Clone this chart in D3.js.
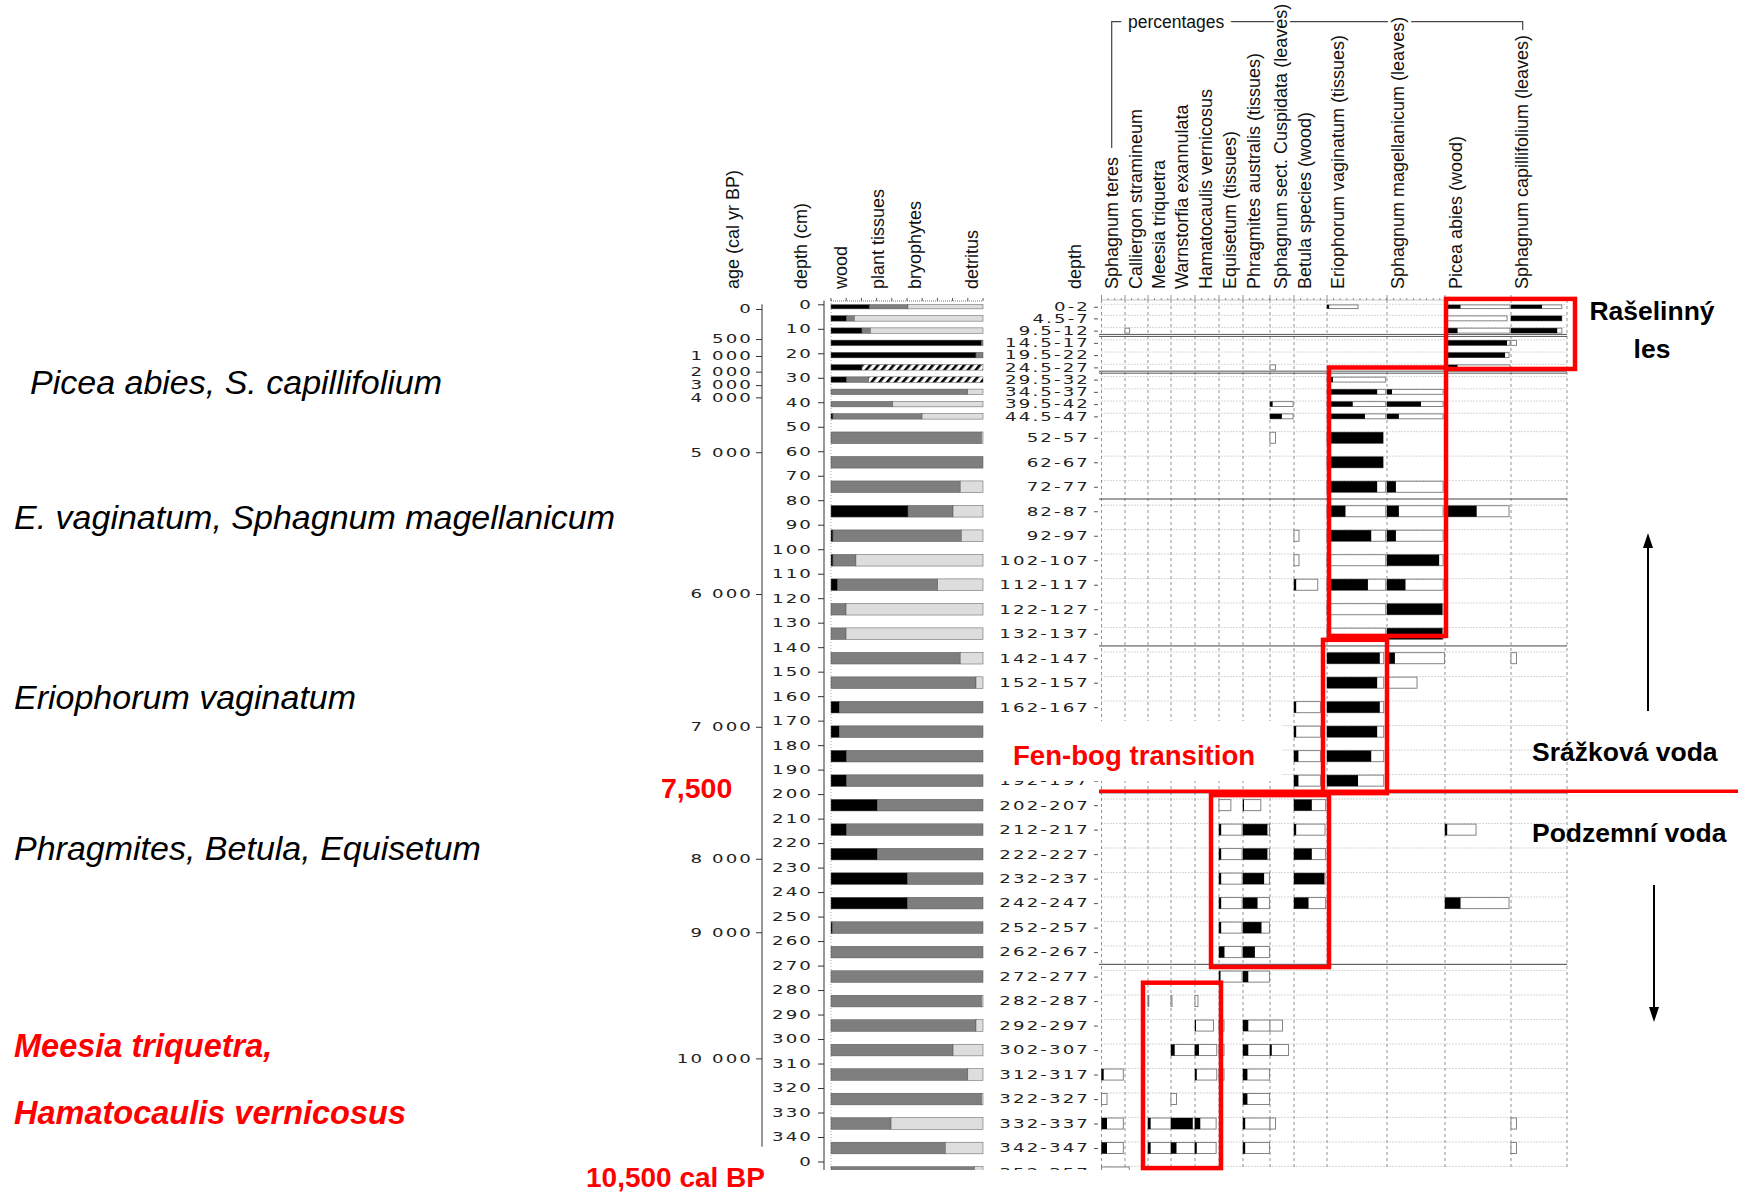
<!DOCTYPE html>
<html><head><meta charset="utf-8">
<script src="https://cdn.jsdelivr.net/npm/d3@7"></script>
<style>body{margin:0;background:#fff}svg{display:block}</style>
</head><body>
<svg id="c" width="1741" height="1194"></svg>
<script>
// ---------------- DATA ----------------
const samples = ["0-2","4.5-7","9.5-12","14.5-17","19.5-22","24.5-27","29.5-32","34.5-37","39.5-42","44.5-47",
 "52-57","62-67","72-77","82-87","92-97","102-107","112-117","122-127","132-137","142-147","152-157","162-167",
 "172-177","182-187","192-197","202-207","212-217","222-227","232-237","242-247","252-257","262-267","272-277",
 "282-287","292-297","302-307","312-317","322-327","332-337","342-347","352-357"];
// sample labels hidden behind the "Fen-bog transition" note in the reference
const hiddenLabels = ["172-177","182-187"];

const compCategories = ["wood","plant tissues","bryophytes","detritus"];
const compWood    = [25.4,10.3,20.4,99,95.4,20.4,10.3,0,0,1.3, 0,0,0,50.7,1.3,1.3,4.4,0,0,0,0,5.5, 5.5,10.3,10.3,30.5,10.3,30.5,50.4,50.4,1,0,0, 0,0,0,0,0,0,0,0];
const compPlant   = [25.2,5,5.5,1,4.6,0,14.5,90,40.6,58.6, 99,100,85,29.6,84.4,15.1,65.8,9.9,9.9,85,95.4,94.5, 94.5,89.7,89.7,69.5,89.7,69.5,49.6,49.6,99,100,100, 99,95.4,80.3,90,99,39.5,75.2,94.3];
const compBryo    = [49.4,84.7,74.1,0,0,0,0,10,59.4,40.1, 1,0,15,19.7,14.3,83.6,29.8,90.1,90.1,15,4.6,0, 0,0,0,0,0,0,0,0,0,0,0, 1,4.6,19.7,10,1,60.5,24.8,5.7];
const compDetritus= [0,0,0,0,0,79.6,75.2,0,0,0, 0,0,0,0,0,0,0,0,0,0,0,0, 0,0,0,0,0,0,0,0,0,0,0, 0,0,0,0,0,0,0,0];

const taxa = ["Sphagnum teres","Calliergon stramineum","Meesia triquetra","Warnstorfia exannulata",
 "Hamatocaulis vernicosus","Equisetum (tissues)","Phragmites australis (tissues)",
 "Sphagnum sect. Cuspidata (leaves)","Betula species (wood)","Eriophorum vaginatum (tissues)",
 "Sphagnum magellanicum (leaves)","Picea abies (wood)","Sphagnum capillifolium (leaves)"];

// [sample, black %, total %]
const sphagnumTeres = [["312-317",3.3,33],["322-327",0,8.3],["332-337",8.3,33],["342-347",8.3,33],["352-357",0,42]];
const calliergon    = [["9.5-12",0,7]];
const meesia        = [["282-287",0,1.2],["332-337",4,35],["342-347",4,35]];
const warnstorfia   = [["282-287",0,1.5],["302-307",5.6,36],["322-327",0,8.3],["332-337",33,36],["342-347",8.3,36]];
const hamatocaulis  = [["282-287",0,4.5],["292-297",1.5,28],["302-307",6,33],["312-317",2.7,33],["332-337",8,32],["342-347",2.7,32]];
const equisetum     = [["202-207",0,18],["212-217",3.3,35],["222-227",3.3,35],["232-237",3.3,35],["242-247",3.3,35],
  ["252-257",3.3,35],["262-267",8.3,35],["272-277",2.3,35],["292-297",0,7.6],["302-307",0,7.6],["312-317",0,7.6]];
const phragmites    = [["202-207",1.5,27],["212-217",37,40],["222-227",37,40],["232-237",32,40],["242-247",22,40],
  ["252-257",28,40],["262-267",18,40],["272-277",8,40],["292-297",8,41],["302-307",8,41],["312-317",6.7,40],
  ["322-327",6.7,40],["332-337",3.3,41],["342-347",3.3,40]];
const cuspidata     = [["24.5-27",0,8.3],["39.5-42",4,35],["44.5-47",18,35],["52-57",0,8.3],["292-297",0,19],
  ["302-307",2.7,28],["332-337",0,8.3]];
const betula        = [["92-97",0,7.6],["102-107",0,7.6],["112-117",3.3,36],["162-167",3.3,40],["172-177",3.3,40],
  ["182-187",6.7,40],["192-197",6.7,40],["202-207",27,48],["212-217",3.3,47],["222-227",27,48],["232-237",46,47],["242-247",22,48]];
const eriophorum    = [["0-2",3.3,47],["29.5-32",9,89],["34.5-37",76,89],["39.5-42",39,89],["44.5-47",57.5,89],
  ["52-57",85,85],["62-67",85,85],["72-77",76,89],["82-87",28,89],["92-97",67,89],["102-107",6,89],["112-117",62,89],
  ["122-127",3,89],["132-137",3,89],["142-147",80,86],["152-157",76,86],["162-167",80,86],["172-177",76,86],
  ["182-187",67,86],["192-197",47,86]];
const magellanicum  = [["34.5-37",7.6,85],["39.5-42",51.5,85],["44.5-47",18,85],["72-77",13.5,85],["82-87",18,85],
  ["92-97",13.5,85],["102-107",79,85],["112-117",28,85],["122-127",84,85],["132-137",84,85],["142-147",12,87],["152-157",0,45.5]];
const piceaAbies    = [["0-2",23.5,98.5],["4.5-7",4.5,94],["9.5-12",19,98.5],["14.5-17",94,98.5],["19.5-22",91,97],
  ["24.5-27",19,98.5],["82-87",48,97],["212-217",3.3,47],["242-247",23.5,97]];
const capillifolium = [["0-2",47,77],["4.5-7",77,77],["9.5-12",70,77],["14.5-17",0,8.3],["142-147",0,8.3],
  ["332-337",0,8.3],["342-347",0,8.3]];
const taxaValues = [sphagnumTeres,calliergon,meesia,warnstorfia,hamatocaulis,equisetum,phragmites,cuspidata,betula,eriophorum,magellanicum,piceaAbies,capillifolium];

const ageTicks      = [0,500,1000,2000,3000,4000,5000,6000,7000,8000,9000,10000];
const ageTickDepths = [1.9,14.2,21.1,27.5,33,38,60.4,118.3,172.5,226.4,256.4,307.9];
const depthTicks    = d3.range(0,351,10);
const zoneBoundaries = [79.5,139.5,199.5,269.5];
const doubleZoneBoundaries = [12.3,27.3];

// ---------------- LAYOUT ----------------
const svg = d3.select("#c");
const FONT = "'Liberation Sans', Arial, sans-serif";
const NUMFONT = "'DejaVu Sans', sans-serif";
const depthY = d3.scaleLinear().domain([0,340]).range([304.3,1137]);
const ageY = d3.scaleLinear().domain(ageTicks).range(ageTickDepths.map(depthY));
const compX = d3.scaleLinear().domain([0,100]).range([831,983]);
const colStart = [1101.5,1125,1148,1171,1195,1219,1243,1270,1294,1327,1387,1445,1511];
const colEnd = 1567;
const pct = d3.scaleLinear().domain([0,100]).range([0,66]);
const parse = s => s.split("-").map(Number);
const BOTTOM = 1170;

const defs = svg.append("defs");
defs.append("clipPath").attr("id","clip").append("rect").attr("x",0).attr("y",0).attr("width",1741).attr("height",BOTTOM);
const pat = defs.append("pattern").attr("id","hatch").attr("patternUnits","userSpaceOnUse")
  .attr("width",6).attr("height",6).attr("patternTransform","rotate(40)");
pat.append("rect").attr("width",6).attr("height",6).attr("fill","#fff");
pat.append("rect").attr("width",2.6).attr("height",6).attr("fill","#000");

const chart = svg.append("g").attr("clip-path","url(#clip)");

function styleNums(sel, x){
  sel.selectAll(".tick text").attr("x",0)
    .attr("transform",`translate(${x},0) scale(1.4,0.93)`)
    .style("font-family",NUMFONT).style("font-size","13px").style("letter-spacing","1.5px").attr("fill","#222");
}

// ---- age axis
const ageAxis = chart.append("g").attr("transform","translate(762,0)")
  .call(d3.axisLeft(ageY).tickValues(ageTicks).tickSize(6).tickPadding(4)
  .tickFormat(d => d >= 1000 ? d3.format(",")(d).replace(",", " ") : d));
ageAxis.select(".domain").remove();
ageAxis.selectAll(".tick line").attr("stroke","#333");
styleNums(ageAxis,-9);
chart.append("line").attr("x1",762).attr("x2",762).attr("y1",depthY(0)).attr("y2",depthY(344)).attr("stroke","#333");

// ---- depth axis
const depthAxis = chart.append("g").attr("transform","translate(824,0)")
  .call(d3.axisLeft(depthY).tickValues(depthTicks).tickSize(6).tickPadding(4).tickFormat(d => d===350 ? "0" : d));
depthAxis.select(".domain").remove();
depthAxis.selectAll(".tick line").attr("stroke","#333");
styleNums(depthAxis,-11);
chart.append("line").attr("x1",824).attr("x2",824).attr("y1",depthY(-1.5)).attr("y2",BOTTOM).attr("stroke","#333");

// ---- composition
chart.append("line").attr("x1",831).attr("x2",831).attr("y1",300).attr("y2",BOTTOM)
  .attr("stroke","#aaa").attr("stroke-dasharray","1,2");
chart.append("line").attr("x1",compX(0)).attr("x2",compX(100)).attr("y1",301).attr("y2",301).attr("stroke","#777").attr("stroke-dasharray","1,1");
chart.selectAll(".ctick").data(d3.range(0,101,10)).enter().append("line")
  .attr("x1",d=>compX(d)).attr("x2",d=>compX(d)).attr("y1",298).attr("y2",301).attr("stroke","#555");
const compData = samples.map((s,i)=>({sample:s, wood:compWood[i], plant:compPlant[i], bryo:compBryo[i], detritus:compDetritus[i]}));
const compKeys = ["wood","plant","bryo","detritus"];
const compFill = {wood:"#000", plant:"#7e7e7e", bryo:"#dddddd", detritus:"url(#hatch)"};
const stacked = d3.stack().keys(compKeys)(compData);
chart.append("g").selectAll("g").data(stacked).enter().append("g")
  .attr("fill",d=>compFill[d.key])
  .selectAll("rect").data(d=>d.filter(v=>v[1]-v[0]>0)).enter().append("rect")
  .attr("x",d=>compX(d[0])).attr("width",d=>compX(d[1])-compX(d[0]))
  .attr("y",d=>depthY(parse(d.data.sample)[0])+0.3)
  .attr("height",d=>{const p=parse(d.data.sample);return depthY(p[1])-depthY(p[0])-0.6;})
  .attr("stroke","#555").attr("stroke-width",0.5);

// ---- right panel grid
const rp = chart.append("g");
rp.selectAll(".hrow").data(samples).enter().append("line")
  .attr("x1",colStart[0]).attr("x2",colEnd)
  .attr("y1",d=>depthY(parse(d)[0])).attr("y2",d=>depthY(parse(d)[0]))
  .attr("stroke","#9a9a9a").attr("stroke-width",0.8).attr("stroke-dasharray","1,2");
rp.selectAll(".vcol").data(colStart.concat([colEnd])).enter().append("line")
  .attr("x1",d=>d).attr("x2",d=>d).attr("y1",300).attr("y2",BOTTOM)
  .attr("stroke","#777").attr("stroke-width",0.8).attr("stroke-dasharray","3,3");
rp.append("line").attr("x1",colStart[0]).attr("x2",colEnd).attr("y1",300).attr("y2",300)
  .attr("stroke","#888").attr("stroke-dasharray","1,1");
colStart.forEach((c,i)=>{
  const end = i<colStart.length-1 ? colStart[i+1] : colEnd;
  d3.range(c, end, pct(10)).forEach((x,j)=>{
    rp.append("line").attr("x1",x).attr("x2",x).attr("y1",j===0?295:298).attr("y2",300).attr("stroke","#666").attr("stroke-width",0.7);
  });
});
zoneBoundaries.forEach(z=>{
  rp.append("line").attr("x1",1099).attr("x2",colEnd).attr("y1",depthY(z)).attr("y2",depthY(z)).attr("stroke","#444").attr("stroke-width",1);
});
doubleZoneBoundaries.forEach(z=>{
  [0,2].forEach(o=>rp.append("line").attr("x1",1099).attr("x2",colEnd).attr("y1",depthY(z)+o).attr("y2",depthY(z)+o).attr("stroke","#444").attr("stroke-width",0.9));
});

// sample labels
const shown = samples.filter(s=>!hiddenLabels.includes(s));
const sAxis = chart.append("g").attr("transform","translate(1098,0)")
  .call(d3.axisLeft(depthY).tickValues(shown.map(s=>{const p=parse(s);return (p[0]+p[1])/2;}))
  .tickSize(4).tickPadding(4).tickFormat((d,i)=>shown[i]));
sAxis.select(".domain").remove();
sAxis.selectAll(".tick line").attr("stroke","#555");
styleNums(sAxis,-8);

// taxa bars
taxaValues.forEach((arr,i)=>{
  const g = rp.append("g");
  const rows = g.selectAll("g").data(arr).enter().append("g");
  rows.append("rect").attr("x",colStart[i])
    .attr("y",d=>depthY(parse(d[0])[0])+0.6)
    .attr("height",d=>{const p=parse(d[0]);return depthY(p[1])-depthY(p[0])-1.2;})
    .attr("width",d=>pct(d[2])).attr("fill","#fff").attr("stroke","#777").attr("stroke-width",0.9);
  rows.filter(d=>d[1]>0).append("rect").attr("x",colStart[i])
    .attr("y",d=>depthY(parse(d[0])[0])+0.6)
    .attr("height",d=>{const p=parse(d[0]);return depthY(p[1])-depthY(p[0])-1.2;})
    .attr("width",d=>pct(d[1])).attr("fill","#000");
});

// ---- headers
const hdr = svg.append("g").style("font-family",FONT).style("font-size","18px").attr("fill","#111");
hdr.append("path").attr("d","M1111.7,148V21.7H1522.7V30").attr("fill","none").attr("stroke","#444").attr("stroke-width",1.2);
hdr.append("text").attr("x",1128).attr("y",27.5).text("percentages").style("font-size","17.5px")
  .attr("stroke","#fff").attr("stroke-width",14).attr("paint-order","stroke");
hdr.selectAll(".tx").data(taxa).enter().append("text")
  .attr("transform",(d,i)=>`translate(${colStart[i]+16.5},289) rotate(-90)`).text(d=>d)
  .attr("stroke","#fff").attr("stroke-width",6).attr("paint-order","stroke");
const leftHeads = [["age (cal yr BP)",739,289],["depth (cm)",807,289],["wood",846.5,289],["plant tissues",884,289],
  ["bryophytes",920.5,289],["detritus",978,289],["depth",1080.5,289]];
hdr.selectAll(".lh").data(leftHeads).enter().append("text")
  .attr("transform",d=>`translate(${d[1]},${d[2]}) rotate(-90)`).text(d=>d[0]);

// ---- annotations
const ann = svg.append("g").style("font-family",FONT);
ann.append("rect").attr("x",995).attr("y",721).attr("width",287).attr("height",60).attr("fill","#fff");
ann.append("line").attr("x1",1099).attr("x2",1738).attr("y1",depthY(198.8)).attr("y2",depthY(198.8)).attr("stroke","#f00").attr("stroke-width",3.5);
const boxes = [[1446,1575,-2.2,26.4],[1329,1446,25.8,135.4],[1323,1387,137,199.6],[1211,1329,200.4,270.6],[1143,1221,277,352.7]];
ann.selectAll(".rb").data(boxes).enter().append("rect")
  .attr("x",d=>d[0]).attr("width",d=>d[1]-d[0]).attr("y",d=>depthY(d[2])).attr("height",d=>depthY(d[3])-depthY(d[2]))
  .attr("fill","none").attr("stroke","#f00").attr("stroke-width",4.5);

const italics = [["Picea abies, S. capillifolium",30,394],["E. vaginatum, Sphagnum magellanicum",14,529],
  ["Eriophorum vaginatum",14,709],["Phragmites, Betula, Equisetum",14,860]];
ann.selectAll(".it").data(italics).enter().append("text").attr("x",d=>d[1]).attr("y",d=>d[2])
  .text(d=>d[0]).style("font-style","italic").style("font-size","34px").attr("fill","#000");
const redItal = [["Meesia triquetra,",14,1057],["Hamatocaulis vernicosus",14,1124]];
ann.selectAll(".ri").data(redItal).enter().append("text").attr("x",d=>d[1]).attr("y",d=>d[2])
  .text(d=>d[0]).style("font-style","italic").style("font-weight","bold").style("font-size","32.5px").attr("fill","#f00");
ann.append("text").attr("x",661).attr("y",798).text("7,500").style("font-weight","bold").style("font-size","28.5px").attr("fill","#f00");
ann.append("text").attr("x",586).attr("y",1187).text("10,500 cal BP").style("font-weight","bold").style("font-size","28px").attr("fill","#f00");
ann.append("text").attr("x",1013).attr("y",765).text("Fen-bog transition").style("font-weight","bold").style("font-size","27.6px").attr("fill","#f00");
const blk = [["Rašelinný",1652,320,"middle"],["les",1652,358,"middle"],["Srážková voda",1532,761,"start"],["Podzemní voda",1532,842,"start"]];
ann.selectAll(".bk").data(blk).enter().append("text").attr("x",d=>d[1]).attr("y",d=>d[2]).attr("text-anchor",d=>d[3])
  .text(d=>d[0]).style("font-weight","bold").style("font-size","26.5px").attr("fill","#000");
// arrows
ann.append("line").attr("x1",1648).attr("x2",1648).attr("y1",711).attr("y2",545).attr("stroke","#000").attr("stroke-width",2);
ann.append("path").attr("d","M1648,533L1643,548L1653,548Z").attr("fill","#000");
ann.append("line").attr("x1",1654).attr("x2",1654).attr("y1",885).attr("y2",1010).attr("stroke","#000").attr("stroke-width",2);
ann.append("path").attr("d","M1654,1022L1649,1007L1659,1007Z").attr("fill","#000");
</script>
</body></html>
